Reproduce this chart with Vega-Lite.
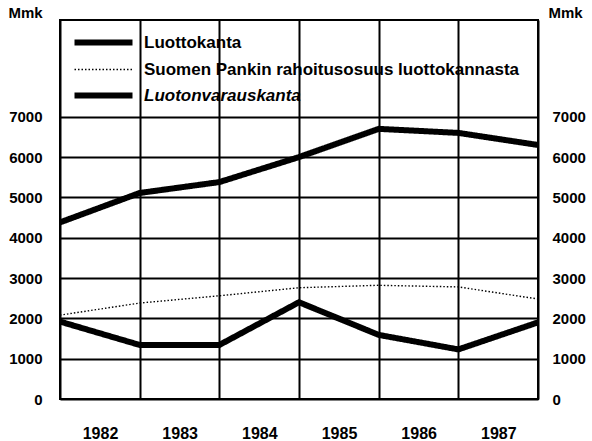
{
  "$schema": "https://vega.github.io/schema/vega-lite/v6.json",
  "width": 478,
  "height": 379,
  "autosize": "none",
  "padding": {"left": 60, "top": 20, "right": 54, "bottom": 42},
  "config": {
    "view": {"stroke": "black", "strokeWidth": 2},
    "font": "Liberation Sans",
    "axis": {"labelFont": "Liberation Sans", "labelFontWeight": "bold", "labelFontSize": 15, "labelColor": "black", "titleFont": "Liberation Sans", "titleFontWeight": "bold", "titleFontSize": 15, "titleColor": "black"}
  },
  "data": {"values": [
    {"year": 1982, "series": "Luottokanta", "value": 4380},
    {"year": 1983, "series": "Luottokanta", "value": 5110},
    {"year": 1984, "series": "Luottokanta", "value": 5380},
    {"year": 1985, "series": "Luottokanta", "value": 6000},
    {"year": 1986, "series": "Luottokanta", "value": 6700},
    {"year": 1987, "series": "Luottokanta", "value": 6600},
    {"year": 1988, "series": "Luottokanta", "value": 6300},
    {"year": 1982, "series": "Suomen Pankin rahoitusosuus luottokannasta", "value": 2080},
    {"year": 1983, "series": "Suomen Pankin rahoitusosuus luottokannasta", "value": 2380},
    {"year": 1984, "series": "Suomen Pankin rahoitusosuus luottokannasta", "value": 2560},
    {"year": 1985, "series": "Suomen Pankin rahoitusosuus luottokannasta", "value": 2760},
    {"year": 1986, "series": "Suomen Pankin rahoitusosuus luottokannasta", "value": 2820},
    {"year": 1987, "series": "Suomen Pankin rahoitusosuus luottokannasta", "value": 2780},
    {"year": 1988, "series": "Suomen Pankin rahoitusosuus luottokannasta", "value": 2480},
    {"year": 1982, "series": "Luotonvarauskanta", "value": 1920},
    {"year": 1983, "series": "Luotonvarauskanta", "value": 1340},
    {"year": 1984, "series": "Luotonvarauskanta", "value": 1340},
    {"year": 1985, "series": "Luotonvarauskanta", "value": 2400},
    {"year": 1986, "series": "Luotonvarauskanta", "value": 1590},
    {"year": 1987, "series": "Luotonvarauskanta", "value": 1230},
    {"year": 1988, "series": "Luotonvarauskanta", "value": 1900}
  ]},
  "encoding": {
    "x": {"field": "year", "type": "quantitative", "scale": {"domain": [1982, 1988], "nice": false, "zero": false},
      "axis": {"values": [1982, 1983, 1984, 1985, 1986, 1987, 1988], "format": "d", "title": null, "grid": true, "gridColor": "black", "gridWidth": 2, "gridOpacity": 1, "ticks": false, "domain": false, "labelOffset": 40, "labelPadding": 26, "labelFontSize": 16, "labelFlush": false, "labelOverlap": false, "labelExpr": "datum.value == 1988 ? '' : datum.label"}},
    "y": {"field": "value", "type": "quantitative", "scale": {"domain": [0, 9400], "nice": false}}
  },
  "layer": [
    {
      "mark": {"type": "line", "strokeCap": "butt", "strokeJoin": "miter", "color": "black"},
      "encoding": {
        "y": {"field": "value", "type": "quantitative",
          "axis": {"orient": "left", "values": [0, 1000, 2000, 3000, 4000, 5000, 6000, 7000], "format": "d", "grid": true, "gridColor": "black", "gridWidth": 2, "gridOpacity": 1, "ticks": false, "domain": false, "labelPadding": 18, "title": "Mmk", "titleAngle": 0, "titleAlign": "left", "titleBaseline": "middle", "titleX": -52, "titleY": -8}},
        "detail": {"field": "series"},
        "strokeDash": {"field": "series", "type": "nominal",
          "scale": {"domain": ["Luottokanta", "Suomen Pankin rahoitusosuus luottokannasta", "Luotonvarauskanta"], "range": [[1, 0], [1.5, 2], [1, 0]]},
          "legend": {"orient": "none", "legendX": 35, "legendY": 14, "title": null, "symbolType": "M-5.8,0L5.8,0", "symbolSize": 100, "symbolStrokeColor": "black", "symbolFillColor": "transparent", "labelFont": "Liberation Sans", "labelFontWeight": "bold", "labelFontSize": 17, "labelColor": "black", "labelOffset": 32, "labelLimit": 500, "rowPadding": 5,
            "encode": {
              "labels": {"update": {"fontStyle": {"signal": "datum.label == 'Luotonvarauskanta' ? 'italic' : 'normal'"}}},
              "symbols": {"update": {"strokeWidth": {"signal": "datum.label == 'Suomen Pankin rahoitusosuus luottokannasta' ? 1.3 : 6"}}}
            }}},
        "strokeWidth": {"field": "series", "type": "nominal",
          "scale": {"type": "ordinal", "domain": ["Luottokanta", "Suomen Pankin rahoitusosuus luottokannasta", "Luotonvarauskanta"], "range": [6, 1.4, 6]},
          "legend": null}
      }
    },
    {
      "mark": {"type": "line", "strokeOpacity": 0},
      "encoding": {
        "detail": {"field": "series"},
        "y": {"field": "value", "type": "quantitative",
          "axis": {"orient": "right", "values": [0, 1000, 2000, 3000, 4000, 5000, 6000, 7000], "format": "d", "grid": false, "ticks": false, "domain": false, "labelPadding": 14, "title": "Mmk", "titleAngle": 0, "titleAlign": "left", "titleBaseline": "middle", "titleX": 10, "titleY": -8}}
      }
    }
  ],
  "resolve": {"axis": {"y": "independent"}}
}
